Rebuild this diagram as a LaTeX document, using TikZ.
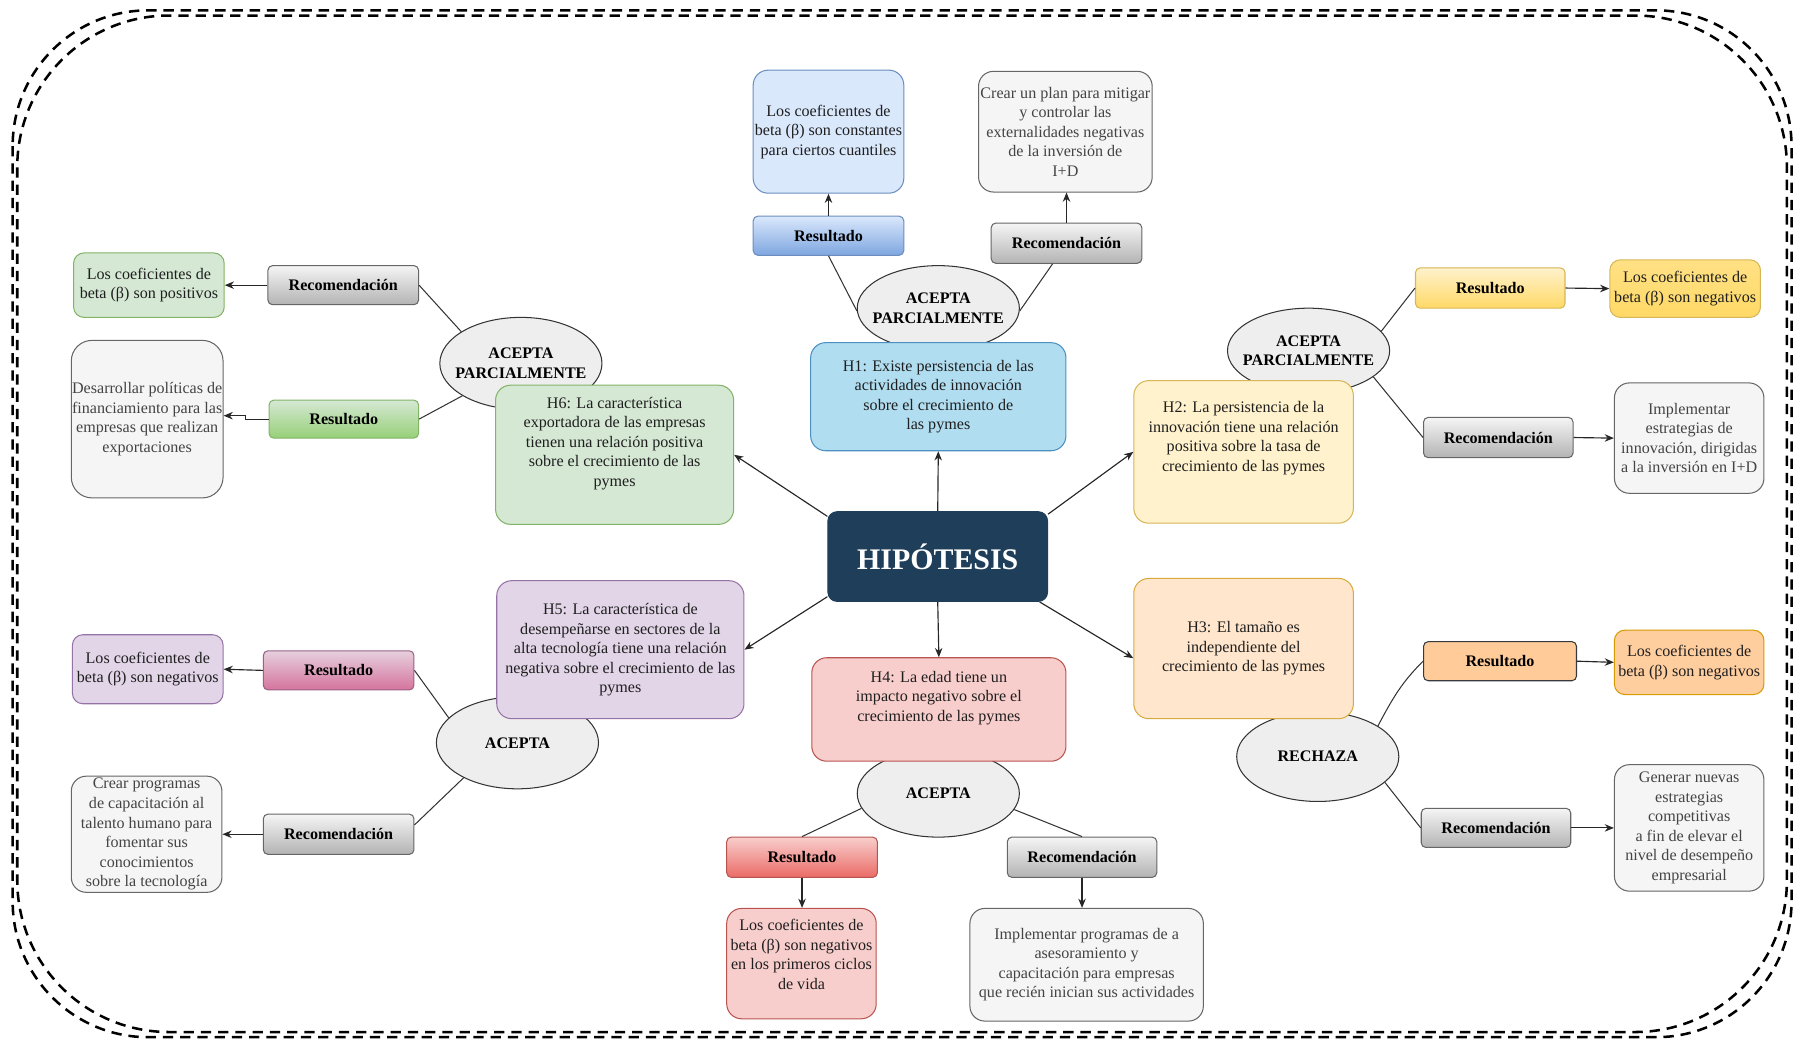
\documentclass[tikz,border=0pt]{standalone}
\usepackage{fontspec}
\setmainfont{Liberation Serif}
\usetikzlibrary{shapes.geometric,arrows.meta,calc}

\definecolor{navy}{HTML}{1F3E5A}
\definecolor{hblue}{HTML}{B1DDF0}\definecolor{hblueline}{HTML}{4A90C0}
\definecolor{lblue}{HTML}{DAE8FC}\definecolor{lblueline}{HTML}{6C8EBF}\definecolor{dblue}{HTML}{7EA6E0}
\definecolor{lgreen}{HTML}{D5E8D4}\definecolor{lgreenline}{HTML}{82B366}\definecolor{dgreen}{HTML}{97D077}
\definecolor{lyel}{HTML}{FFF2CC}\definecolor{lyelline}{HTML}{D6B656}\definecolor{dyel}{HTML}{FFD966}
\definecolor{lorg}{HTML}{FFE6CC}\definecolor{lorgline}{HTML}{D7AB40}\definecolor{morg}{HTML}{FFCC99}
\definecolor{orgbox}{HTML}{FFCE9F}\definecolor{orgboxline}{HTML}{D79B00}\definecolor{darkline}{HTML}{36393D}
\definecolor{lred}{HTML}{F8CECC}\definecolor{lredline}{HTML}{B85450}\definecolor{dred}{HTML}{EA6B66}
\definecolor{lpur}{HTML}{E1D5E7}\definecolor{lpurline}{HTML}{9673A6}
\definecolor{lpink}{HTML}{E6D0DE}\definecolor{dpink}{HTML}{D5739D}\definecolor{pinkline}{HTML}{996185}
\definecolor{gfill}{HTML}{F5F5F5}\definecolor{gline}{HTML}{666666}\definecolor{gtext}{HTML}{444444}
\definecolor{gdark}{HTML}{B3B3B3}
\definecolor{ovalfill}{HTML}{EEEEEE}\definecolor{ovalline}{HTML}{333333}

\tikzset{
  sz/.style 2 args={minimum width=#1, minimum height=#2},
  base/.style={font=\fontsize{14}{17}\selectfont, align=center, inner sep=0pt, line width=0.9pt},
  hbox/.style={base, rounded corners=13pt, text=black!88},
  obox/.style={base, rounded corners=9pt, text=black!88},
  gbox/.style={base, rounded corners=13pt, draw=gline, fill=gfill, text=gtext},
  tag/.style={base, rounded corners=4pt, font=\fontsize{14}{17}\selectfont\bfseries},
  graytag/.style={tag, draw=gline, top color=gfill, bottom color=gdark},
  txt/.style={base, text=black!88},
  oval/.style={base, ellipse, inner xsep=-8pt, draw=ovalline, fill=ovalfill, font=\fontsize{14}{17}\selectfont\bfseries},
  link/.style={line width=0.9pt, draw=ovalline},
  arr/.style={line width=1pt, draw=black!85, -{Stealth[length=8pt,width=6.5pt]}},
  frame/.style={line width=2.2pt, dash pattern=on 9pt off 6pt}
}

\begin{document}
\begin{tikzpicture}[x=1pt,y=-1pt]
\useasboundingbox (0,0) rectangle (1568,908);

% outer frame: two dashed outlines, the inner one with wider corners
\draw[frame, rounded corners=118pt] (11,9) rectangle (1558,902);
\draw[frame, rounded corners=132pt] (15,13.5) rectangle (1554,897.5);

% verdict ellipses (behind the hypothesis boxes)
\node[oval, sz={141pt}{74pt}] (E1) at (816,268) {ACEPTA\\PARCIALMENTE};
\node[oval, sz={141pt}{74pt}] (E2) at (1138,305) {ACEPTA\\PARCIALMENTE};
\node[oval, sz={141pt}{78pt}] (E3) at (1146,658) {RECHAZA};
\node[oval, sz={141pt}{76pt}] (E4) at (816,690) {ACEPTA};
\node[oval, sz={141pt}{80pt}] (E5) at (450,646) {ACEPTA};
\node[oval, sz={141pt}{80pt}] (E6) at (453,316) {ACEPTA\\PARCIALMENTE};

% hypotheses
\node[hbox, draw=hblueline, fill=hblue, sz={222pt}{94pt}] (H1) at (816,345)
  {H1: Existe persistencia de las\\actividades de innovación\\sobre el crecimiento de\\las pymes};
\node[hbox, draw=lyelline, fill=lyel, sz={191pt}{124pt}] (H2) at (1081.5,393) {};
\node[txt] (H2t) at ([yshift=12pt]H2.center)
  {H2: La persistencia de la\\innovación tiene una relación\\positiva sobre la tasa de\\crecimiento de las pymes};
\node[hbox, draw=lorgline, fill=lorg, sz={191pt}{122pt}] (H3) at (1081.5,564)
  {H3: El tamaño es\\independiente del\\crecimiento de las pymes};
\node[hbox, draw=lredline, fill=lred, sz={221pt}{90pt}] (H4) at (816.5,617) {};
\node[txt] (H4t) at ([yshift=10pt]H4.center)
  {H4: La edad tiene un\\impacto negativo sobre el\\crecimiento de las pymes};
\node[hbox, draw=lpurline, fill=lpur, sz={215pt}{120pt}] (H5) at (539.5,565)
  {H5: La característica de\\desempeñarse en sectores de la\\alta tecnología tiene una relación\\negativa sobre el crecimiento de las\\pymes};
\node[hbox, draw=lgreenline, fill=lgreen, sz={207pt}{121pt}] (H6) at (534.5,395.5) {};
\node[txt] (H6t) at ([yshift=10pt]H6.center)
  {H6: La característica\\exportadora de las empresas\\tienen una relación positiva\\sobre el crecimiento de las\\pymes};

% central node
\node[base, rounded corners=8pt, fill=navy, draw=navy, text=white,
      font=\fontsize{26}{30}\selectfont\bfseries, sz={191pt}{78pt}] (hip) at (815.5,484) {HIPÓTESIS};

% result / recommendation tags
\node[tag, draw=lblueline, top color=lblue, bottom color=dblue, sz={131pt}{34pt}] (R1) at (720.5,205) {Resultado};
\node[graytag, sz={131pt}{35pt}] (C1) at (927.5,211.5) {Recomendación};
\node[tag, draw=lyelline, top color=lyel, bottom color=dyel, sz={130pt}{35pt}] (R2) at (1296,250.5) {Resultado};
\node[graytag, sz={130pt}{35pt}] (C2) at (1303,380.5) {Recomendación};
\node[tag, draw=darkline, fill=morg, sz={133pt}{34pt}] (R3) at (1304.5,575) {Resultado};
\node[graytag, sz={130pt}{34pt}] (C3) at (1301,720) {Recomendación};
\node[tag, draw=lredline, top color=lred, bottom color=dred, sz={131pt}{35pt}] (R4) at (697.5,745.5) {Resultado};
\node[graytag, sz={130pt}{35pt}] (C4) at (941,745.5) {Recomendación};
\node[tag, draw=pinkline, top color=lpink, bottom color=dpink, sz={131pt}{34pt}] (R5) at (294.5,583) {Resultado};
\node[graytag, sz={131pt}{35pt}] (C5) at (294.5,725.5) {Recomendación};
\node[graytag, sz={131pt}{34pt}] (C6) at (298.5,248) {Recomendación};
\node[tag, draw=lgreenline, top color=lgreen, bottom color=dgreen, sz={130pt}{33pt}] (R6) at (299,364.5) {Resultado};

% outcome boxes
\node[obox, rounded corners=13pt, draw=lblueline, fill=lblue, sz={131pt}{107pt}] (O1) at (720.5,114.5)
  {Los coeficientes de\\beta (β) son constantes\\para ciertos cuantiles};
\node[gbox, sz={151pt}{105pt}] (P1) at (926.5,114.5)
  {Crear un plan para mitigar\\y controlar las\\externalidades negativas\\de la inversión de\\I+D};
\node[obox, draw=lyelline, top color=dyel!70!lyel, bottom color=dyel, sz={131pt}{50pt}] (O2) at (1465.5,251)
  {Los coeficientes de\\beta (β) son negativos};
\node[gbox, sz={130pt}{96pt}] (P2) at (1469,381)
  {Implementar\\estrategias de\\innovación, dirigidas\\a la inversión en I+D};
\node[obox, draw=orgboxline, fill=orgbox, sz={130pt}{56pt}] (O3) at (1469,576)
  {Los coeficientes de\\beta (β) son negativos};
\node[gbox, sz={130pt}{110pt}] (P3) at (1469,720)
  {Generar nuevas\\estrategias\\competitivas\\a fin de elevar el\\nivel de desempeño\\empresarial};
\node[obox, rounded corners=13pt, draw=lredline, fill=lred, sz={130pt}{96pt}] (O4) at (697,838) {};
\node[txt] (O4t) at ([yshift=8pt]O4.center)
  {Los coeficientes de\\beta (β) son negativos\\en los primeros ciclos\\de vida};
\node[gbox, sz={203pt}{98pt}] (P4) at (945,839)
  {Implementar programas de a\\asesoramiento y\\capacitación para empresas\\que recién inician sus actividades};
\node[obox, draw=lpurline, fill=lpur, sz={131pt}{60pt}] (O5) at (128.5,582)
  {Los coeficientes de\\beta (β) son negativos};
\node[gbox, sz={131pt}{101pt}] (P5) at (127.5,725.5)
  {Crear programas\\de capacitación al\\talento humano para\\fomentar sus\\conocimientos\\sobre la tecnología};
\node[obox, draw=lgreenline, fill=lgreen, sz={131pt}{56pt}] (O6) at (129.5,248)
  {Los coeficientes de\\beta (β) son positivos};
\node[gbox, rounded corners=18pt, sz={132pt}{137pt}] (P6) at (128,364.5)
  {Desarrollar políticas de\\financiamiento para las\\empresas que realizan\\exportaciones};

% hypotheses branching from the centre
\draw[arr] (hip.north) -- (H1.south);
\draw[arr] (hip.21) -- (H2.west);
\draw[arr] (hip.-24) -- (H3.185);
\draw[arr] (hip.south) -- (H4.north);
\draw[arr] (hip.200) -- (H5.east);
\draw[arr] (hip.160) -- (H6.east);

% verdicts to tags
\draw[link] (E1.182) -- (R1.south);
\draw[link] (E1.-2) -- (C1.-124);
\draw[link] (E2.15) -- (R2.west);
\draw[link] (E2.-22) -- (C2.west);
\draw[link] (E3.27) to[out=62,in=-135] (R3.west);
\draw[link] (E3.-21) -- (C3.west);
\draw[link] (E4.191) -- (R4.north);
\draw[link] (E4.-12) -- (C4.north);
\draw[link] (E5.160) -- (R5.east);
\draw[link] (E5.213) -- (C5.7);
\draw[link] (E6.152) -- (C6.east);
\draw[link] (E6.209) -- (R6.east);

% tags to outcomes
\draw[arr] (R1.north) -- (O1.south);
\draw[arr] (C1.north) -- (C1.north |- P1.south);
\draw[arr] (R2.east) -- (O2.west);
\draw[arr] (C2.east) -- (P2.west);
\draw[arr] (R3.east) -- (O3.west);
\draw[arr] (C3.east) -- (P3.west);
\draw[arr] (R4.south) -- (R4.south |- O4.north);
\draw[arr] (C4.south) -- (C4.south |- P4.north);
\draw[arr] (R5.west) -- (O5.east);
\draw[arr] (C5.west) -- (P5.east);
\draw[arr] (C6.west) -- (O6.east);
\coordinate (j6) at ([xshift=-20pt]R6.west);
\draw[arr] (R6.west) -- (j6) |- ([yshift=3pt]P6.east);
\end{tikzpicture}
\end{document}
